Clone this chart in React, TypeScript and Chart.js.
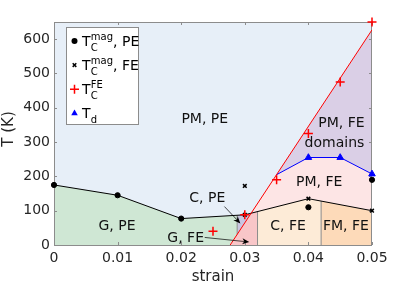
import React, { useEffect, useRef } from 'react';
import { Chart, registerables } from 'chart.js';

Chart.register(...registerables);

const FONT = '"DejaVu Sans", "Liberation Sans", sans-serif';

// ---- axis ticks ----
const xTickValues = [0, 0.01, 0.02, 0.03, 0.04, 0.05];
const xTickLabels = ['0', '0.01', '0.02', '0.03', '0.04', '0.05'];
const yTickValues = [0, 100, 200, 300, 400, 500, 600];
const yTickLabels = ['0', '100', '200', '300', '400', '500', '600'];
const yTitle = 'T (K)';
const xTitle = 'strain';

// ---- measured points ----
const tcMagPEStrain = [0, 0.01, 0.02, 0.04, 0.05];
const tcMagPET = [175, 145, 77, 110, 190];
const tcMagFEStrain = [0.03, 0.03, 0.04, 0.05];
const tcMagFET = [88, 172, 135, 100];
const tcFEStrain = [0.025, 0.03, 0.035, 0.04, 0.045, 0.05];
const tcFET = [40, 88, 190, 325, 475, 650];
const tdStrain = [0.04, 0.045, 0.05];
const tdT = [255, 255, 207];

// ---- phase boundary lines ----
const magLineStrain = [0, 0.01, 0.02, 0.03, 0.04, 0.05];
const magLineT = [175, 145, 77, 88, 135, 100];
const feFitStrain = [0.0277, 0.05];
const feFitT = [0, 627];
const tdLineStrain = [0.035, 0.04, 0.045, 0.05];
const tdLineT = [205, 255, 255, 207];

// ---- phase regions (boundary polygons, filled to T = 0) ----
const domainsRegion = [[0.0277, 0], [0.05, 627]];
const pmFeRegion = [[0.0277, 0], [0.035, 205], [0.04, 255], [0.045, 255], [0.05, 207]];
const gPeRegion = [[0, 175], [0.01, 145], [0.02, 77], [0.0288, 86.7], [0.0288, 0]];
const cPeRegion = [[0.0288, 86.7], [0.03, 88], [0.031, 93.5], [0.031, 0]];
const gFeRegion = [[0.0277, 0], [0.031, 93.5], [0.032, 97.4], [0.032, 0]];
const cFeRegion = [[0.032, 0], [0.032, 97.4], [0.04, 135], [0.042, 128], [0.042, 0]];
const fmFeRegion = [[0.042, 0], [0.042, 128], [0.05, 100], [0.05, 0]];

// ---- boundary separators ----
const separators = [
  [[0.0288, 31], [0.0288, 86.7]],
  [[0.032, 0], [0.032, 97.4]],
  [[0.042, 0], [0.042, 128]],
];

// ---- annotations (data coordinates) ----
const regionLabels = [
  { text: 'PM, PE', x: 0.0237, y: 367 },
  { text: 'G, PE', x: 0.0099, y: 53 },
  { text: 'C, PE', x: 0.0241, y: 135 },
  { text: 'G, FE', x: 0.0207, y: 20 },
  { text: 'C, FE', x: 0.0368, y: 53 },
  { text: 'FM, FE', x: 0.0459, y: 53 },
  { text: 'PM, FE', x: 0.0417, y: 184 },
  { text: 'PM, FE', x: 0.0452, y: 355 },
  { text: 'domains', x: 0.0441, y: 296 },
];
const arrows = [
  { from: [0.0268, 112], to: [0.0293, 63] },
  { from: [0.0237, 22], to: [0.0307, 8.7] },
];

const legendEntries = [
  { marker: 'circle', color: '#000000', base: 'T', sup: 'mag', sub: 'C', suffix: ', PE' },
  { marker: 'crossRot', color: '#000000', base: 'T', sup: 'mag', sub: 'C', suffix: ', FE' },
  { marker: 'cross', color: '#ff0000', base: 'T', sup: 'FE', sub: 'C', suffix: '' },
  { marker: 'triangle', color: '#0000ff', base: 'T', sup: '', sub: 'd', suffix: '' },
];

const BG = '#e7eff8';
const AXIS = '#8c8c8c';
const TXT = '#262626';

const toPts = (xs: number[], ys: number[]) => xs.map((x, i) => ({ x, y: ys[i] }));
const polyPts = (p: number[][]) => p.map(([x, y]) => ({ x, y }));

const regionDs = (label: string, poly: number[][], color: string, extra: any = {}) => ({
  label,
  data: polyPts(poly),
  backgroundColor: color,
  borderColor: 'rgba(0,0,0,0)',
  borderWidth: 0,
  pointRadius: 0,
  fill: 'origin',
  showLine: true,
  ...extra,
});

const lineDs = (label: string, data: any[], color: string, width = 1) => ({
  label,
  data,
  borderColor: color,
  borderWidth: width,
  pointRadius: 0,
  fill: false,
  showLine: true,
});

const markerDs = (label: string, data: any[], style: string, color: string, radius: number, bw: number, fillColor: string) => ({
  label,
  data,
  showLine: false,
  pointStyle: style,
  pointRadius: radius,
  pointBorderColor: color,
  pointBackgroundColor: fillColor,
  pointBorderWidth: bw,
  clip: false,
  fill: false,
});

function drawMarker(ctx: CanvasRenderingContext2D, style: string, x: number, y: number, color: string) {
  ctx.save();
  ctx.strokeStyle = color;
  ctx.fillStyle = color;
  if (style === 'circle') {
    ctx.beginPath();
    ctx.arc(x, y, 3, 0, Math.PI * 2);
    ctx.fill();
  } else if (style === 'crossRot') {
    ctx.lineWidth = 1.5;
    const r = 1.8;
    ctx.beginPath();
    ctx.moveTo(x - r, y - r); ctx.lineTo(x + r, y + r);
    ctx.moveTo(x + r, y - r); ctx.lineTo(x - r, y + r);
    ctx.stroke();
  } else if (style === 'cross') {
    ctx.lineWidth = 1.5;
    const r = 4.5;
    ctx.beginPath();
    ctx.moveTo(x - r, y); ctx.lineTo(x + r, y);
    ctx.moveTo(x, y - r); ctx.lineTo(x, y + r);
    ctx.stroke();
  } else if (style === 'triangle') {
    const r = 3.8;
    ctx.beginPath();
    ctx.moveTo(x, y - r);
    ctx.lineTo(x + r * 0.866, y + r * 0.5);
    ctx.lineTo(x - r * 0.866, y + r * 0.5);
    ctx.closePath();
    ctx.fill();
  }
  ctx.restore();
}

const decorPlugin = {
  id: 'phaseDecor',
  beforeDatasetsDraw(chart: any) {
    const { ctx, chartArea: a } = chart;
    ctx.save();
    ctx.fillStyle = BG;
    ctx.fillRect(a.left, a.top, a.right - a.left, a.bottom - a.top);
    ctx.restore();
  },
  afterDatasetDraw(chart: any, args: any) {
    const ds = chart.data.datasets[args.index];
    if (!ds || !ds.boxAfter) return;
    const { ctx, chartArea: a, scales } = chart;
    ctx.save();
    ctx.strokeStyle = AXIS;
    ctx.lineWidth = 1;
    ctx.strokeRect(a.left + 0.5, a.top + 0.5, a.right - a.left - 1, a.bottom - a.top);
    ctx.beginPath();
    const tl = 3;
    xTickValues.forEach((v) => {
      const px = Math.round(scales.x.getPixelForValue(v)) + 0.5;
      ctx.moveTo(px, a.bottom); ctx.lineTo(px, a.bottom - tl);
      ctx.moveTo(px, a.top); ctx.lineTo(px, a.top + tl);
    });
    yTickValues.forEach((v) => {
      const py = Math.round(scales.y.getPixelForValue(v)) + 0.5;
      ctx.moveTo(a.left, py); ctx.lineTo(a.left + tl, py);
      ctx.moveTo(a.right, py); ctx.lineTo(a.right - tl, py);
    });
    ctx.stroke();
    ctx.restore();
  },
  afterDatasetsDraw(chart: any) {
    const { ctx, scales } = chart;
    ctx.save();
    // arrows
    arrows.forEach(({ from, to }) => {
      const x0 = scales.x.getPixelForValue(from[0]);
      const y0 = scales.y.getPixelForValue(from[1]);
      const x1 = scales.x.getPixelForValue(to[0]);
      const y1 = scales.y.getPixelForValue(to[1]);
      const ang = Math.atan2(y1 - y0, x1 - x0);
      const L = 7, W = 3, N = 5;
      const bx = x1 - L * Math.cos(ang), by = y1 - L * Math.sin(ang);
      const nx = x1 - N * Math.cos(ang), ny = y1 - N * Math.sin(ang);
      ctx.strokeStyle = '#000';
      ctx.lineWidth = 0.7;
      ctx.beginPath();
      ctx.moveTo(x0, y0);
      ctx.lineTo(nx, ny);
      ctx.stroke();
      ctx.fillStyle = '#000';
      ctx.beginPath();
      ctx.moveTo(x1, y1);
      ctx.lineTo(bx - W * Math.sin(ang), by + W * Math.cos(ang));
      ctx.lineTo(nx, ny);
      ctx.lineTo(bx + W * Math.sin(ang), by - W * Math.cos(ang));
      ctx.closePath();
      ctx.fill();
    });
    // region labels
    ctx.fillStyle = '#111';
    ctx.font = `14px ${FONT}`;
    ctx.textAlign = 'center';
    ctx.textBaseline = 'middle';
    regionLabels.forEach(({ text, x, y }) => {
      ctx.fillText(text, scales.x.getPixelForValue(x), scales.y.getPixelForValue(y));
    });
    ctx.restore();
  },
  afterDraw(chart: any) {
    const { ctx, chartArea: a } = chart;
    // y axis title
    ctx.save();
    ctx.translate(9, (a.top + a.bottom) / 2 - 4.5);
    ctx.rotate(-Math.PI / 2);
    ctx.fillStyle = TXT;
    ctx.font = `15px ${FONT}`;
    ctx.textAlign = 'center';
    ctx.textBaseline = 'middle';
    ctx.fillText(yTitle, 0, 0);
    ctx.restore();

    const bx = Math.round(a.left + 12) + 0.5;
    const by = Math.round(a.top + 5) + 0.5;
    const bw = 72;
    const bh = 97;
    ctx.save();
    ctx.fillStyle = '#ffffff';
    ctx.fillRect(bx, by, bw, bh);
    ctx.strokeStyle = AXIS;
    ctx.lineWidth = 1;
    ctx.strokeRect(bx, by, bw, bh);
    legendEntries.forEach((e, i) => {
      const ry = by + 13.5 + i * 24.1;
      drawMarker(ctx, e.marker, bx + 8, ry, e.color);
      ctx.fillStyle = '#000';
      ctx.textAlign = 'left';
      ctx.textBaseline = 'alphabetic';
      let tx = bx + 15.5;
      const base = ry + 5;
      ctx.font = `14px ${FONT}`;
      ctx.fillText(e.base, tx, base);
      tx += ctx.measureText(e.base).width + 0.3;
      ctx.font = `10px ${FONT}`;
      let w = 0;
      if (e.sup) {
        ctx.fillText(e.sup, tx, base - 6.5);
        w = Math.max(w, ctx.measureText(e.sup).width);
      }
      if (e.sub) {
        ctx.fillText(e.sub, tx, base + 4.5);
        w = Math.max(w, ctx.measureText(e.sub).width);
      }
      tx += w;
      if (e.suffix) {
        ctx.font = `14px ${FONT}`;
        ctx.fillText(e.suffix, tx, base);
      }
    });
    ctx.restore();
  },
};

export default function App() {
  const ref = useRef<HTMLCanvasElement>(null);
  useEffect(() => {
    document.body.style.margin = '0';
    Chart.defaults.font.family = FONT;
    const datasets: any[] = [
      regionDs('PM, FE domains', domainsRegion, '#dacfe6'),
      regionDs('PM, FE', pmFeRegion, '#fde5e5'),
      regionDs('G, PE', gPeRegion, '#cfe7d4'),
      regionDs('C, PE', cPeRegion, '#c9c5e1'),
      regionDs('G, FE', gFeRegion, '#f8c6c8'),
      regionDs('C, FE', cFeRegion, '#fdebd7'),
      regionDs('FM, FE', fmFeRegion, '#fddab9', { boxAfter: true }),
      ...separators.map((s, i) => lineDs('sep' + i, polyPts(s), '#8c8c8c', 1)),
      lineDs('mag boundary', toPts(magLineStrain, magLineT), '#000000', 1),
      lineDs('Td boundary', toPts(tdLineStrain, tdLineT), '#0000ff', 1),
      lineDs('FE fit', toPts(feFitStrain, feFitT), '#ff0000', 1),
      markerDs('Tc mag PE', toPts(tcMagPEStrain, tcMagPET), 'circle', '#000000', 2.6, 1, '#000000'),
      markerDs('Tc mag FE', toPts(tcMagFEStrain, tcMagFET), 'crossRot', '#000000', 2.6, 1.5, '#000000'),
      markerDs('Tc FE', toPts(tcFEStrain, tcFET), 'cross', '#ff0000', 4.5, 1.5, '#ff0000'),
      markerDs('Td', toPts(tdStrain, tdT), 'triangle', '#0000ff', 3.8, 1, '#0000ff'),
    ];
    datasets.forEach((d, i) => { d.order = datasets.length - i; });

    const chart = new Chart(ref.current as HTMLCanvasElement, {
      type: 'line',
      data: { datasets },
      plugins: [decorPlugin as any],
      options: {
        responsive: false,
        maintainAspectRatio: false,
        devicePixelRatio: 1,
        animation: false,
        events: [],
        layout: { padding: { left: 0, top: 22, right: 38, bottom: 0 } },
        plugins: {
          legend: { display: false },
          tooltip: { enabled: false },
        },
        elements: { line: { tension: 0 } },
        scales: {
          x: {
            type: 'linear',
            min: 0,
            max: 0.05,
            grid: { display: false, drawTicks: false },
            border: { display: false },
            afterBuildTicks: (s: any) => { s.ticks = xTickValues.map((v) => ({ value: v })); },
            afterFit: (s: any) => { s.height = 42; },
            ticks: {
              color: TXT,
              font: { size: 14, family: FONT },
              padding: 5,
              maxRotation: 0,
              autoSkip: false,
              callback: (_v: any, i: number) => xTickLabels[i],
            },
            title: {
              display: true,
              text: xTitle,
              color: TXT,
              font: { size: 15, family: FONT },
              padding: { top: 0, bottom: 1 },
            },
          },
          y: {
            type: 'linear',
            min: 0,
            max: 650,
            grid: { display: false, drawTicks: false },
            border: { display: false },
            afterBuildTicks: (s: any) => { s.ticks = yTickValues.map((v) => ({ value: v })); },
            afterFit: (s: any) => { s.width = 54; },
            ticks: {
              color: TXT,
              font: { size: 14, family: FONT },
              padding: 4,
              autoSkip: false,
              callback: (_v: any, i: number) => yTickLabels[i],
            },
            title: { display: false },
          },
        },
      } as any,
    });
    return () => chart.destroy();
  }, []);
  return (
    <div style={{ width: 410, height: 287 }}>
      <canvas ref={ref} width={410} height={287} style={{ display: 'block', width: 410, height: 287 }} />
    </div>
  );
}
